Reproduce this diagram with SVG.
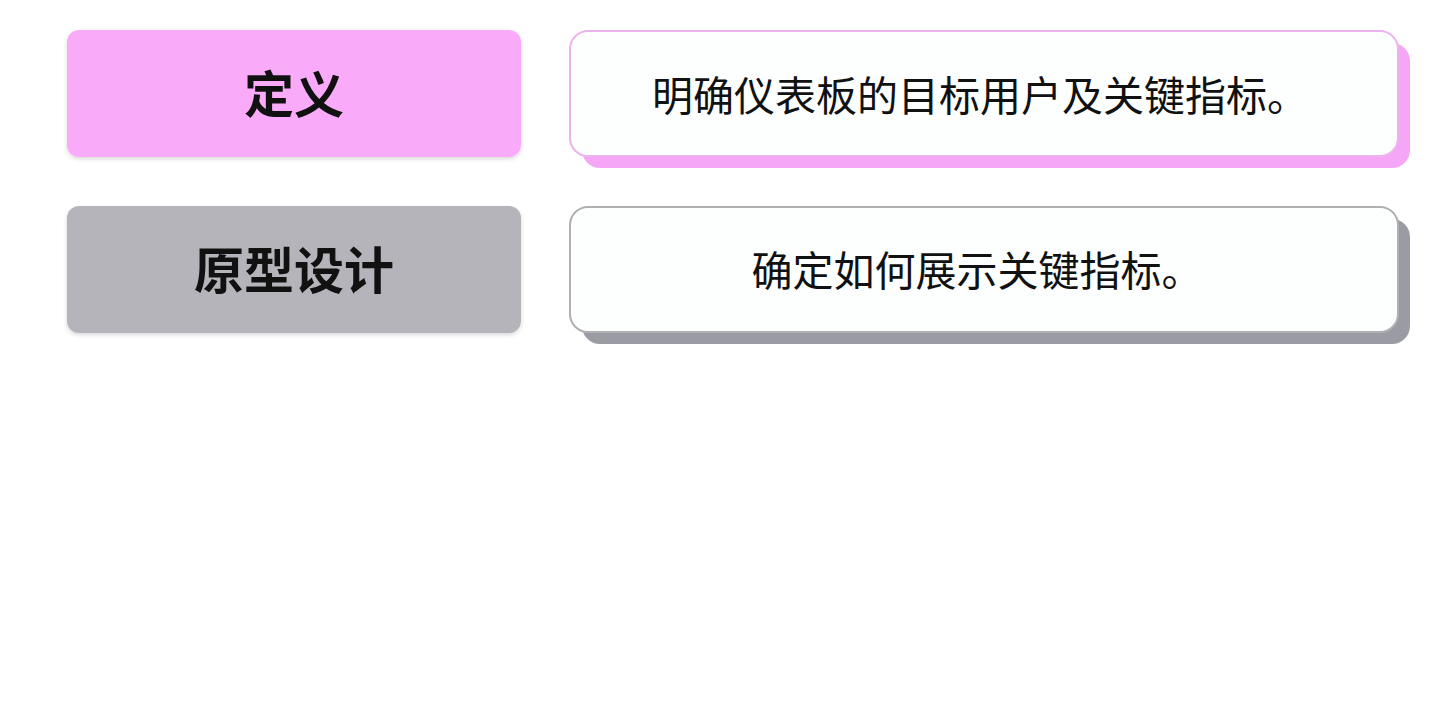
<svg xmlns="http://www.w3.org/2000/svg" width="1446" height="720" viewBox="0 0 1446 720">
<defs>
<filter id="sh" x="-5%" y="-10%" width="110%" height="130%"><feDropShadow dx="0" dy="2" stdDeviation="2" flood-color="#000" flood-opacity="0.15"/></filter>
</defs>
<style>
.lt{font-family:"Noto Sans CJK SC","Noto Sans",sans-serif;font-weight:700;font-size:50px;fill:#111;text-anchor:middle;dominant-baseline:central}
.rt{font-family:"Noto Sans CJK SC","Noto Sans",sans-serif;font-weight:400;font-size:41px;fill:#111;text-anchor:middle;dominant-baseline:central}
</style>
<rect width="1446" height="720" fill="#ffffff"/>
<g id="connectors"></g>
<g id="node-define">
<rect x="67" y="30" width="454" height="127" rx="12" fill="#F9ABF9" filter="url(#sh)"/>
<text class="lt" x="294" y="91">定义</text>
</g>
<g id="node-define-desc">
<rect x="582" y="43" width="828" height="125" rx="18" fill="#F6A6F6"/>
<rect x="570" y="31" width="828" height="125" rx="18" fill="#FDFEFE" stroke="#EDB3ED" stroke-width="2"/>
<text class="rt" x="980" y="93">明确仪表板的目标用户及关键指标。</text>
</g>
<g id="node-proto">
<rect x="67" y="206" width="454" height="127" rx="12" fill="#B4B4BA" filter="url(#sh)"/>
<text class="lt" x="294" y="267">原型设计</text>
</g>
<g id="node-proto-desc">
<rect x="582" y="219" width="828" height="125" rx="18" fill="#9B9BA3"/>
<rect x="570" y="207" width="828" height="125" rx="18" fill="#FDFEFE" stroke="#B0B0B2" stroke-width="2"/>
<text class="rt" x="977" y="268">确定如何展示关键指标。</text>
</g>
</svg>
